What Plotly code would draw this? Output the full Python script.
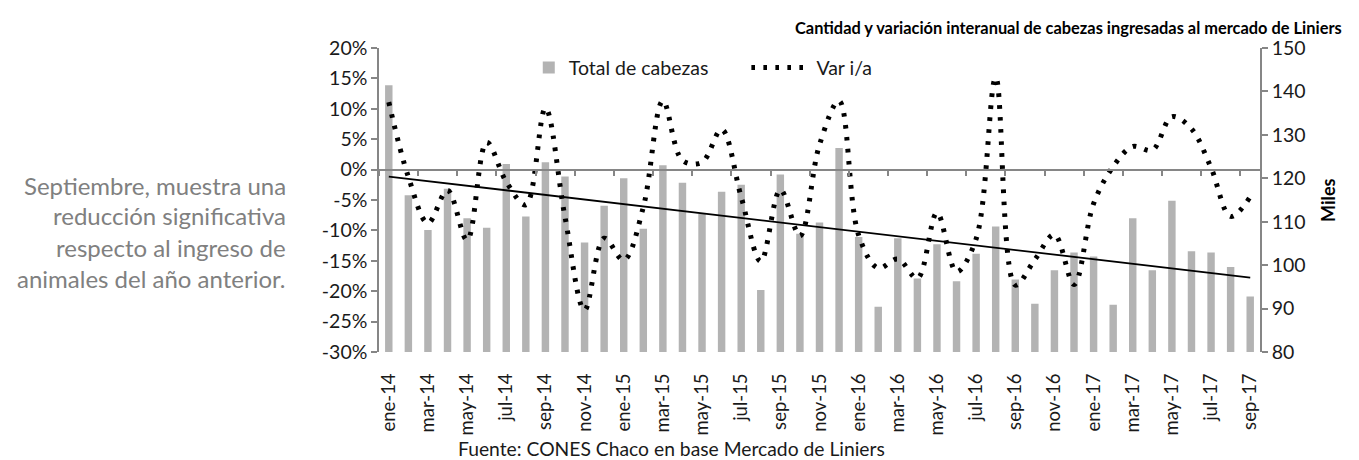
import numpy as np
import plotly.graph_objects as go

months = ["ene-14", "feb-14", "mar-14", "abr-14", "may-14", "jun-14", "jul-14", "ago-14", "sep-14", "oct-14", "nov-14", "dic-14",
          "ene-15", "feb-15", "mar-15", "abr-15", "may-15", "jun-15", "jul-15", "ago-15", "sep-15", "oct-15", "nov-15", "dic-15",
          "ene-16", "feb-16", "mar-16", "abr-16", "may-16", "jun-16", "jul-16", "ago-16", "sep-16", "oct-16", "nov-16", "dic-16",
          "ene-17", "feb-17", "mar-17", "abr-17", "may-17", "jun-17", "jul-17", "ago-17", "sep-17"]

# Total de cabezas (miles) - right axis
total_cabezas = [141.4, 116.1, 108.1, 117.6, 110.8, 108.6, 123.3, 111.2, 123.7, 120.4, 105.2, 113.7,
                 120.0, 108.4, 123.0, 119.0, 111.8, 116.9, 118.5, 94.3, 120.9, 107.2, 109.8, 127.0,
                 106.5, 90.4, 106.2, 96.9, 104.8, 96.3, 102.6, 108.9, 96.7, 91.1, 98.8, 102.9,
                 102.0, 90.9, 110.8, 98.8, 114.8, 103.2, 102.9, 99.6, 92.8]

# Var i/a (%) - left axis
var_ia = [11.1, -1.2, -8.8, -3.4, -11.6, 4.5, -2.0, -5.8, 10.1, -7.8, -23.1, -11.3,
          -14.9, -6.2, 11.3, 1.5, 1.2, 6.6, -4.5, -15.1, -3.3, -10.9, 4.1, 11.3,
          -10.8, -16.2, -14.7, -17.9, -7.1, -16.8, -11.4, 15.1, -19.0, -14.8, -10.7, -18.9,
          -5.6, 0.5, 3.8, 3.2, 8.7, 6.7, 0.3, -7.7, -4.5]

pct_ticks = [20, 15, 10, 5, 0, -5, -10, -15, -20, -25, -30]
pct_labels = [f"{v}%" for v in pct_ticks]

tick_idx = list(range(0, len(months), 2))
tick_labels = [months[i] for i in tick_idx]

x = list(range(len(months)))
slope, intercept = np.polyfit(x, total_cabezas, 1)
trend = [intercept + slope * i for i in x]

FONT = "Lato"
TXT = "#1a1a1a"
AX = "#868686"
XR = [-0.5, len(months) - 0.5]

fig = go.Figure()
fig.add_bar(x=x, y=total_cabezas, name="Total de cabezas", marker_color="#B3B3B3",
            marker_line_width=0, width=0.38, xaxis="x", yaxis="y", legend="legend")
fig.add_scatter(x=x, y=trend, mode="lines", line=dict(color="black", width=1.8),
                showlegend=False, xaxis="x", yaxis="y", hoverinfo="skip")
fig.add_scatter(x=x, y=var_ia, mode="lines", name="Var i/a", xaxis="x2", yaxis="y2", legend="legend2",
                line=dict(color="black", width=5, dash="3.6px,8.4px", shape="spline", smoothing=1))

fig.update_layout(
    width=1351, height=452,
    margin=dict(l=371, r=99, t=40, b=108),
    paper_bgcolor="white", plot_bgcolor="white",
    font=dict(family=FONT, color=TXT, size=19),
    xaxis=dict(range=XR, tickmode="array", tickvals=tick_idx, ticktext=tick_labels,
               tickangle=-90, showline=False, showgrid=False, zeroline=False,
               ticks="outside", ticklen=13, tickcolor="rgba(0,0,0,0)",
               tickfont=dict(size=18.5, color=TXT)),
    xaxis2=dict(overlaying="x", anchor="free", position=0.6, side="bottom",
                range=XR, showline=True, linecolor=AX, linewidth=1.5,
                ticks="outside", ticklen=6, tickcolor=AX, tickwidth=1.5,
                tickmode="array", tickvals=[i - 0.5 for i in tick_idx],
                showticklabels=False, showgrid=False, zeroline=False),
    yaxis=dict(side="right", range=[80, 150], dtick=10, showline=True, linecolor=AX, linewidth=1.5,
               ticks="outside", ticklen=6, tickcolor=AX, tickwidth=1.5, showgrid=False, zeroline=False,
               tickfont=dict(size=19.5, color=TXT)),
    yaxis2=dict(overlaying="y", side="left", anchor="x2", range=[-30, 20],
                tickmode="array", tickvals=pct_ticks, ticktext=pct_labels,
                showline=True, linecolor=AX, linewidth=1.5, ticks="outside", ticklen=6,
                tickcolor=AX, tickwidth=1.5, showgrid=False, zeroline=False,
                tickfont=dict(size=19.5, color=TXT)),
    legend=dict(x=0.17, y=0.935, xanchor="left", yanchor="middle", orientation="h",
                bgcolor="rgba(0,0,0,0)", font=dict(size=19.5, color=TXT)),
    legend2=dict(x=0.417, y=0.935, xanchor="left", yanchor="middle", orientation="h",
                 bgcolor="rgba(0,0,0,0)", font=dict(size=19.5, color=TXT), itemwidth=60),
    showlegend=True,
)

# the page is shown with an 8px body margin: positions below are given in screen pixels
def px_to_paper_x(px):
    return (px - 379) / 881.0

def px_to_paper_y(py):
    return (352 - py) / 304.0

fig.add_annotation(text="<b>Cantidad y variación interanual de cabezas ingresadas al mercado de Liniers</b>",
                   xref="paper", yref="paper", x=px_to_paper_x(1344), y=px_to_paper_y(27),
                   xanchor="right", yanchor="middle", showarrow=False, font=dict(size=16.4, color="black"))
fig.add_annotation(text="<b>Miles</b>", xref="paper", yref="paper", x=px_to_paper_x(1328), y=px_to_paper_y(200),
                   xanchor="center", yanchor="middle", textangle=-90, showarrow=False,
                   font=dict(size=18, color="black"))
fig.add_annotation(text="Fuente: CONES Chaco en base Mercado de Liniers", xref="paper", yref="paper",
                   x=px_to_paper_x(671), y=px_to_paper_y(448), xanchor="center", yanchor="middle",
                   showarrow=False, font=dict(size=19.3, color=TXT))

side_lines = ["Septiembre, muestra una", "reducción significativa",
              "respecto al ingreso de", "animales del año anterior."]
for i, line in enumerate(side_lines):
    fig.add_annotation(text=line, xref="paper", yref="paper", x=px_to_paper_x(288),
                       y=px_to_paper_y(185 + 31 * i), xanchor="right", yanchor="middle",
                       showarrow=False, font=dict(size=24, color="#808080"))

fig.write_html("out.html")
